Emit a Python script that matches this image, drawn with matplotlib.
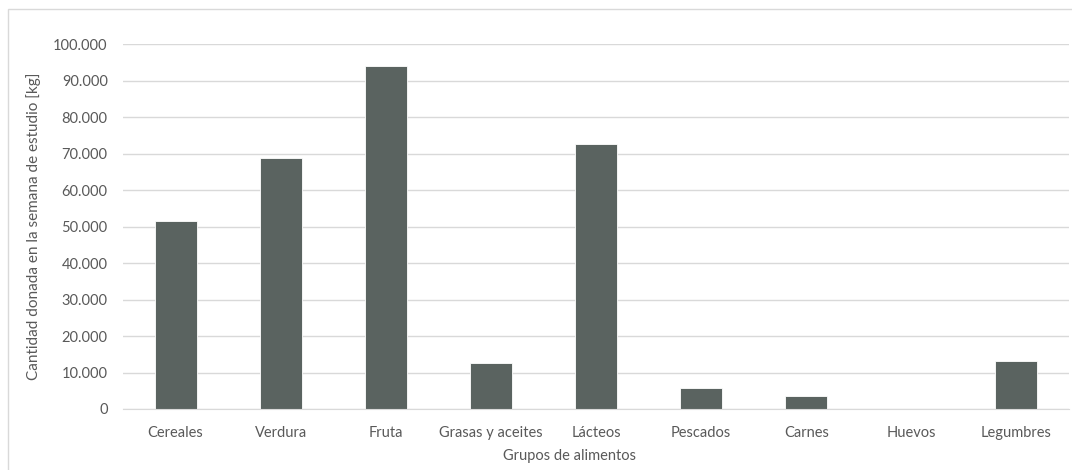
import numpy as np
import matplotlib
matplotlib.use('Agg')
import matplotlib.pyplot as plt
from matplotlib.ticker import FuncFormatter, MultipleLocator
from matplotlib.patches import Rectangle

plt.rcParams['font.family'] = ['Lato', 'DejaVu Sans']

grupos = ['Cereales', 'Verdura', 'Fruta', 'Grasas y aceites', 'Lácteos',
          'Pescados', 'Carnes', 'Huevos', 'Legumbres']
cantidad = [51500, 68800, 94000, 12500, 72700, 5750, 3650, 0, 13200]

text_col = '#595959'
bar_col = '#5a6360'
grid_col = '#d9d9d9'

fig = plt.figure(figsize=(10.72, 4.70), dpi=100)
ax = fig.add_axes([123/1072, 1 - 409/470, (1069 - 123)/1072, (409 - 44.3)/470])

# light chart-area border (cropped at right/bottom in the original)
fig.patches.append(Rectangle((8/1072, -0.1), 1.2, 1 - 9/470 + 0.1,
                             transform=fig.transFigure, fill=False,
                             edgecolor=grid_col, lw=1.0))

x = np.arange(len(grupos))
ax.bar(x, cantidad, width=0.4, color=bar_col, edgecolor='white', lw=0.6, zorder=3)

ax.set_xlim(-0.5, len(grupos) - 0.5)
ax.set_ylim(0, 100000)
ax.yaxis.set_major_locator(MultipleLocator(10000))
ax.yaxis.set_major_formatter(FuncFormatter(lambda v, p: f'{int(v):,}'.replace(',', '.')))
ax.grid(axis='y', color=grid_col, lw=1.0, zorder=0)
ax.set_axisbelow(True)

for s in ['top', 'right', 'left']:
    ax.spines[s].set_visible(False)
ax.spines['bottom'].set_color(grid_col)
ax.spines['bottom'].set_zorder(4)

ax.set_xticks(x)
ax.set_xticklabels(grupos)
ax.tick_params(axis='both', length=0, labelsize=10.5, colors=text_col)
ax.tick_params(axis='x', pad=12)
ax.tick_params(axis='y', pad=11)

ax.set_xlabel('Grupos de alimentos', fontsize=10.5, color=text_col)
ax.xaxis.set_label_coords((569.5 - 123) / 946, -(449 - 409) / 364.7)
ax.set_ylabel('Cantidad donada en la semana de estudio [kg]', fontsize=11,
              color=text_col)
ax.yaxis.set_label_coords((41 - 123) / 946, 0.5)

fig.savefig('out.png', dpi=100)
